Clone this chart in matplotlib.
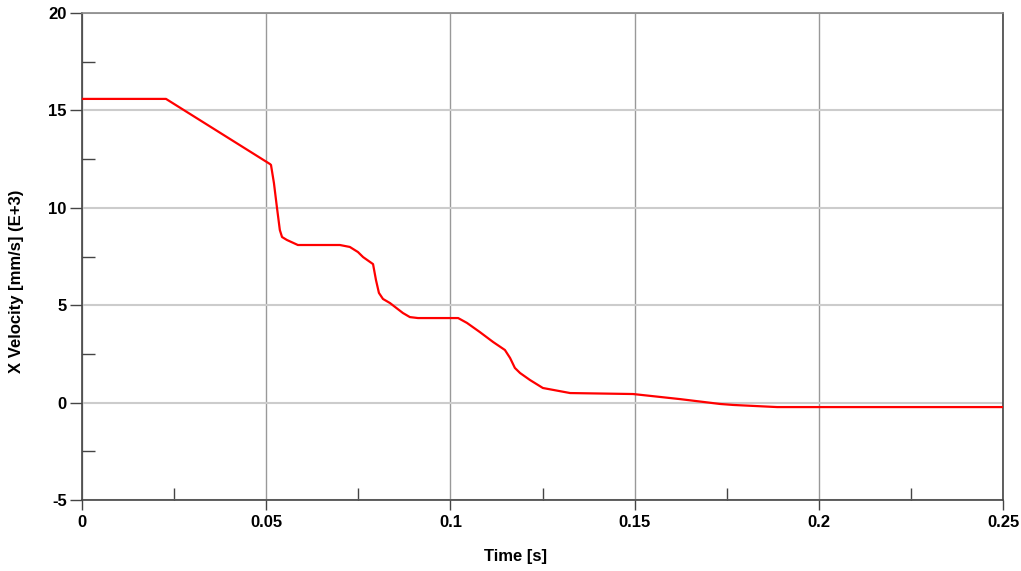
import matplotlib
matplotlib.use("Agg")
import matplotlib.pyplot as plt
from matplotlib.ticker import MultipleLocator

time_s = [0.0, 0.0228, 0.0510, 0.0513, 0.0521, 0.0529, 0.0537, 0.0543, 0.0556, 0.0586,
          0.0700, 0.0727, 0.0749, 0.0763, 0.0790, 0.0798, 0.0806, 0.0817, 0.0836, 0.0871,
          0.0890, 0.0912, 0.1021, 0.1045, 0.1080, 0.1116, 0.1148, 0.1162, 0.1175, 0.1189,
          0.1216, 0.1251, 0.1325, 0.1496, 0.1623, 0.1732, 0.1767, 0.1887, 0.25]
x_velocity = [15.59, 15.59, 12.25, 12.20, 11.27, 10.04, 8.86, 8.50, 8.35, 8.09,
              8.09, 7.99, 7.73, 7.47, 7.11, 6.29, 5.63, 5.32, 5.11, 4.60,
              4.39, 4.34, 4.34, 4.09, 3.62, 3.11, 2.70, 2.29, 1.78, 1.52,
              1.16, 0.75, 0.49, 0.44, 0.18, -0.07, -0.12, -0.23, -0.23]

x_ticks = [0, 0.05, 0.1, 0.15, 0.2, 0.25]
x_ticklabels = ["0", "0.05", "0.1", "0.15", "0.2", "0.25"]
y_ticks = [-5, 0, 5, 10, 15, 20]
y_ticklabels = ["-5", "0", "5", "10", "15", "20"]

plt.rcParams['font.family'] = ['Liberation Sans', 'DejaVu Sans']

fig = plt.figure(figsize=(10.21, 5.71), dpi=100)
ax = fig.add_axes([82/1021, 1 - 500/571, 921/1021, 487/571])

ax.plot(time_s, x_velocity, color="#ff0000", lw=1.6, zorder=3)

ax.set_xlim(0, 0.25)
ax.set_ylim(-5, 20)
ax.set_xticks(x_ticks)
ax.set_xticklabels(x_ticklabels, fontsize=12, fontweight="bold")
ax.set_yticks(y_ticks)
ax.set_yticklabels(y_ticklabels, fontsize=12, fontweight="bold")
ax.xaxis.set_minor_locator(MultipleLocator(0.025))
ax.yaxis.set_minor_locator(MultipleLocator(2.5))

ax.tick_params(axis="y", which="major", direction="out", length=9, width=1, color="#444444", pad=2)
ax.tick_params(axis="x", which="major", direction="out", length=7, width=1, color="#444444", pad=4)
ax.tick_params(axis="both", which="minor", direction="in", length=9, width=1, color="#444444")

ax.grid(True, axis="x", which="major", color="#999999", lw=1)
ax.grid(True, axis="y", which="major", color="#cccccc", lw=1.5)
ax.set_axisbelow(True)

for s in ["left", "bottom", "right"]:
    ax.spines[s].set_color("#444444")
    ax.spines[s].set_linewidth(1.2)
ax.spines["top"].set_color("#888888")
ax.spines["top"].set_linewidth(1.2)

fig.text(515/1021, 1 - 557/571, "Time [s]", fontsize=12, fontweight="bold", ha="center", va="center")
fig.text(17/1021, 1 - 281/571, "X Velocity [mm/s] (E+3)", fontsize=12, fontweight="bold",
         ha="center", va="center", rotation=90)

fig.savefig("out.png", dpi=100)
